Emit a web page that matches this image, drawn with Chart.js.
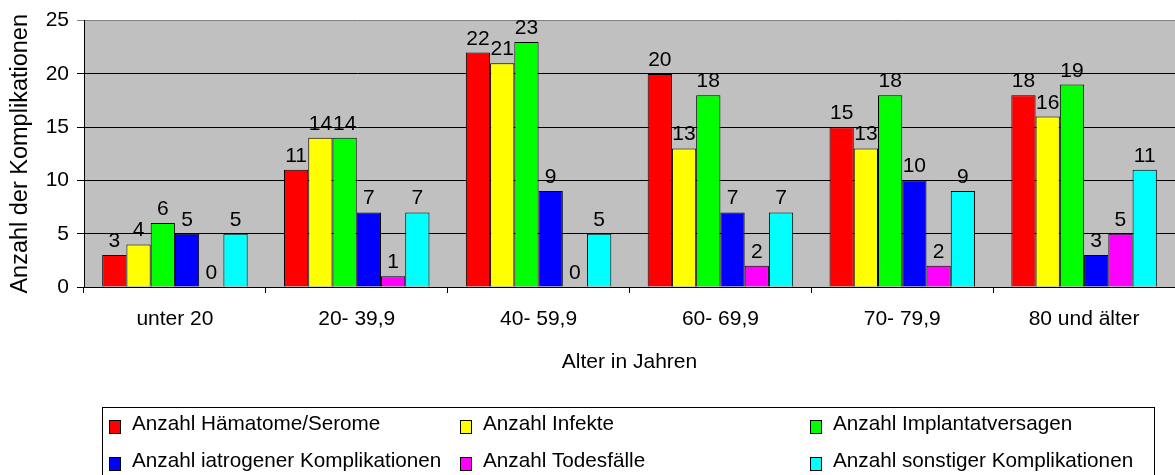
<!DOCTYPE html>
<html>
<head>
<meta charset="utf-8">
<script src="https://cdn.jsdelivr.net/npm/chart.js@4/dist/chart.umd.min.js"></script>
<style>
  html, body { margin: 0; padding: 0; background: #ffffff; }
  #wrap { width: 1175px; height: 475px; }
</style>
</head>
<body>
<div id="wrap"><canvas id="c" width="1175" height="475"></canvas></div>
<script>
// Altersgruppen
const categories = ['unter 20', '20- 39,9', '40- 59,9', '60- 69,9', '70- 79,9', '80 und älter'];

// Komplikationen je Altersgruppe
const haematome   = [3, 11, 22, 20, 15, 18];
const infekte     = [4, 14, 21, 13, 13, 16];
const implantat   = [6, 14, 23, 18, 18, 19];
const iatrogen    = [5, 7, 9, 7, 10, 3];
const todesfaelle = [0, 1, 0, 2, 2, 5];
const sonstige    = [5, 7, 5, 7, 9, 11];

const seriesNames = [
  'Anzahl Hämatome/Serome',
  'Anzahl Infekte',
  'Anzahl Implantatversagen',
  'Anzahl iatrogener Komplikationen',
  'Anzahl Todesfälle',
  'Anzahl sonstiger Komplikationen'
];
const seriesValues = [haematome, infekte, implantat, iatrogen, todesfaelle, sonstige];
const seriesColors = ['#ff0000', '#ffff00', '#00ff00', '#0000ff', '#ff00ff', '#00ffff'];

const yTicks = [0, 5, 10, 15, 20, 25];
const xTitle = 'Alter in Jahren';
const yTitle = 'Anzahl der Komplikationen';

const FONT = 'Arial, "Liberation Sans", sans-serif';

// grey plot background
const plotBackground = {
  id: 'plotBackground',
  beforeDraw(chart) {
    const { ctx, chartArea: a } = chart;
    ctx.save();
    ctx.fillStyle = '#c0c0c0';
    ctx.fillRect(a.left, a.top, a.right - a.left, a.bottom - a.top);
    ctx.restore();
  }
};

// value labels above each bar
const valueLabels = {
  id: 'valueLabels',
  afterDatasetsDraw(chart) {
    const { ctx } = chart;
    ctx.save();
    ctx.font = '21px ' + FONT;
    ctx.fillStyle = '#000000';
    ctx.textAlign = 'center';
    ctx.textBaseline = 'alphabetic';
    chart.data.datasets.forEach((ds, i) => {
      const meta = chart.getDatasetMeta(i);
      meta.data.forEach((bar, j) => {
        ctx.fillText(String(ds.data[j]), bar.x, bar.y - 8);
      });
    });
    ctx.restore();
  }
};

// boxed legend in three columns below the axis title
const boxLegend = {
  id: 'boxLegend',
  afterDraw(chart) {
    const { ctx } = chart;
    ctx.save();
    ctx.strokeStyle = '#000000';
    ctx.lineWidth = 1;
    ctx.strokeRect(102.5, 407.5, 1052, 120);
    const colX = [109, 460, 810];
    const rowBase = [430, 467];
    ctx.font = '20.7px ' + FONT;
    ctx.textAlign = 'left';
    ctx.textBaseline = 'alphabetic';
    chart.data.datasets.forEach((ds, i) => {
      const cx = colX[i % 3];
      const by = rowBase[Math.floor(i / 3)];
      ctx.fillStyle = ds.backgroundColor;
      ctx.fillRect(cx + 0.5, by - 9.5, 11, 13);
      ctx.strokeStyle = '#000000';
      ctx.strokeRect(cx + 0.5, by - 9.5, 11, 13);
      ctx.fillStyle = '#000000';
      ctx.fillText(ds.label, cx + 23, by);
    });
    ctx.restore();
  }
};

const datasets = seriesNames.map((name, i) => ({
  label: name,
  data: seriesValues[i],
  backgroundColor: seriesColors[i],
  borderColor: '#000000',
  borderWidth: 1,
  borderSkipped: 'start',
  categoryPercentage: 0.8,
  barPercentage: 1.0
}));

new Chart(document.getElementById('c'), {
  type: 'bar',
  data: { labels: categories, datasets },
  plugins: [plotBackground, valueLabels, boxLegend],
  options: {
    responsive: false,
    animation: false,
    layout: { padding: { top: 18, left: 0, right: 0, bottom: 100 } },
    plugins: {
      legend: { display: false },
      tooltip: { enabled: false }
    },
    scales: {
      x: {
        afterFit(s) { s.height = 88; },
        grid: {
          display: true,
          drawOnChartArea: false,
          drawTicks: true,
          tickLength: 6,
          color: '#000000',
          offset: true
        },
        border: { display: true, color: '#000000', width: 1 },
        ticks: {
          color: '#000000',
          font: { family: FONT, size: 21 },
          padding: 14,
          maxRotation: 0,
          autoSkip: false
        },
        title: {
          display: true,
          text: xTitle,
          color: '#000000',
          font: { family: FONT, size: 21 },
          padding: { top: 0, bottom: 0 }
        }
      },
      y: {
        min: 0,
        max: 25,
        afterFit(s) { s.width = 84; },
        afterBuildTicks(s) { s.ticks = yTicks.map(v => ({ value: v })); },
        grid: {
          color: (c) => (c.tick && c.tick.value === 25 ? '#808080' : '#000000'),
          lineWidth: 1,
          drawTicks: true,
          tickLength: 7
        },
        border: { display: true, color: '#000000', width: 1 },
        ticks: {
          color: '#000000',
          font: { family: FONT, size: 21 },
          padding: 8
        },
        title: {
          display: true,
          text: yTitle,
          color: '#000000',
          font: { family: FONT, size: 23.5 },
          padding: { top: 6, bottom: 0 }
        }
      }
    }
  }
});
</script>
</body>
</html>
